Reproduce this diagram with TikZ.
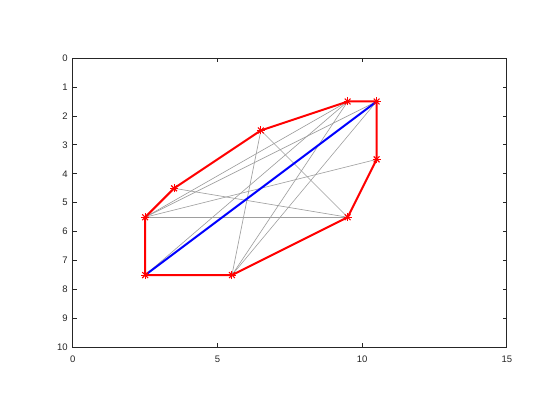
\documentclass[tikz,border=0pt]{standalone}
\usepackage{fontspec}
\setmainfont{Liberation Sans}
\usetikzlibrary{calc}
\begin{document}
\begin{tikzpicture}[x=1pt,y=1pt,
  axisline/.style={draw=black!85,line width=0.8pt},
  ticklabel/.style={font=\fontsize{9.5}{10}\selectfont,text=black!85,inner sep=0pt},
  grayedge/.style={draw=black!38,line width=0.6pt},
  hulledge/.style={draw=red,line width=2pt,line join=round},
  diag/.style={draw=blue,line width=2pt},
  starmark/.style={draw=red,line width=1.1pt}]
\useasboundingbox (0,0) rectangle (560,-420);
\fill[white] (0,0) rectangle (560,-420);
\begin{scope}[shift={(72.8,-58.1)},x=28.933pt,y=-28.933pt]
  % points
  \coordinate (p1) at (2.5,5.5);
  \coordinate (p2) at (3.5,4.5);
  \coordinate (p3) at (6.5,2.5);
  \coordinate (p4) at (9.5,1.5);
  \coordinate (p5) at (10.5,1.5);
  \coordinate (p6) at (10.5,3.5);
  \coordinate (p7) at (9.5,5.5);
  \coordinate (p8) at (5.5,7.5);
  \coordinate (p9) at (2.5,7.5);
  \coordinate (c00) at (0,0);
  \coordinate (c1510) at (15,10);
  % ticks
  \foreach \t in {0,5,10,15} {
    \draw[axisline] (\t,10) -- ++(0,4pt);
    \draw[axisline] (\t,0) -- ++(0,-4pt);
    \node[ticklabel,anchor=center] at ($(\t,10)+(0,-11.5pt)$) {\t};
  }
  \foreach \t in {0,...,10} {
    \draw[axisline] (0,\t) -- ++(4pt,0);
    \draw[axisline] (15,\t) -- ++(-4pt,0);
    \node[ticklabel,anchor=east] at ($(0,\t)+(-5pt,0)$) {\t};
  }
  \draw[axisline] (c00) rectangle (c1510);
  % gray edges
  \draw[grayedge] (p1) -- (p4);
  \draw[grayedge] (p1) -- (p5);
  \draw[grayedge] (p1) -- (p6);
  \draw[grayedge] (p1) -- (p7);
  \draw[grayedge] (p2) -- (p7);
  \draw[grayedge] (p3) -- (p7);
  \draw[grayedge] (p3) -- (p8);
  \draw[grayedge] (p8) -- (p4);
  \draw[grayedge] (p8) -- (p5);
  \draw[grayedge] (p9) -- (p4);
  % diagonal
  \draw[diag] (p9) -- (p5);
  % hull
  \draw[hulledge] (p9) -- (p1) -- (p2) -- (p3) -- (p4) -- (p5) -- (p6) -- (p7) -- (p8) -- cycle;
  % markers
  \foreach \p in {p1,p2,p3,p4,p5,p6,p7,p8,p9} {
    \draw[starmark] ($(\p)+(-4pt,0)$) -- ($(\p)+(4pt,0)$);
    \draw[starmark] ($(\p)+(0,-4pt)$) -- ($(\p)+(0,4pt)$);
    \draw[starmark] ($(\p)+(-2.9pt,-2.9pt)$) -- ($(\p)+(2.9pt,2.9pt)$);
    \draw[starmark] ($(\p)+(-2.9pt,2.9pt)$) -- ($(\p)+(2.9pt,-2.9pt)$);
  }
\end{scope}
\end{tikzpicture}
\end{document}
